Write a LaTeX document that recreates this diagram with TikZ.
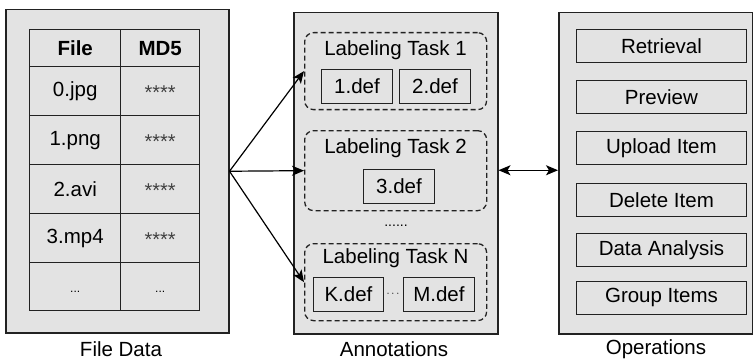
\documentclass[tikz,border=0pt]{standalone}
\usepackage{fontspec}
\setmainfont{Liberation Sans}
\usetikzlibrary{arrows.meta}
\definecolor{panelgray}{HTML}{E3E3E3}
\definecolor{edge}{HTML}{222222}
\tikzset{
  panel/.style={draw=edge, fill=panelgray, line width=1.5pt, anchor=north west, inner sep=0pt},
  cell/.style={draw=edge, line width=1.4pt, anchor=north west, inner sep=0pt, minimum height=49pt},
  taskbox/.style={draw=edge, dash pattern=on 5pt off 3pt, line width=1.3pt, rounded corners=9pt, anchor=north west, inner sep=0pt, minimum width=182pt},
  filebox/.style={draw=edge, line width=0.9pt, anchor=north west, inner sep=0pt, minimum height=34pt},
  opbox/.style={draw=edge, line width=0.9pt, anchor=north west, inner sep=0pt, minimum width=170pt, minimum height=33pt},
  txt/.style={font=\fontsize{20.5}{24}\selectfont, inner sep=0pt},
  stars/.style={font=\fontsize{20}{22}\selectfont, text=black!75, inner sep=0pt, anchor=base},
  arr/.style={line width=1.2pt, -{Stealth[length=12pt,width=10pt,inset=3pt]}},
  darr/.style={line width=1.2pt, {Stealth[length=12pt,width=10pt,inset=3pt]}-{Stealth[length=12pt,width=10pt,inset=3pt]}},
}
\begin{document}
\begin{tikzpicture}[x=1pt,y=-1pt]
\useasboundingbox (0,0) rectangle (753,361);
% ---------- File Data panel ----------
\node[panel, minimum width=223pt, minimum height=323pt] (fd) at (5,9) {};
\node[cell, minimum width=91pt, minimum height=37pt] (h1) at (29,29) {};
\node[cell, minimum width=79pt, minimum height=37pt] (h2) at (120,29) {};
\node[txt, font=\fontsize{20.5}{24}\selectfont\bfseries] (h1t) at (h1.center) {File};
\node[txt, font=\fontsize{20.5}{24}\selectfont\bfseries] (h2t) at (h2.center) {MD5};
\foreach \i/\y/\name in {1/66/0.jpg, 2/115/1.png, 3/164/2.avi, 4/213/3.mp4}{
  \node[cell, minimum width=91pt] (a\i) at (29,\y) {};
  \node[cell, minimum width=79pt] (b\i) at (120,\y) {};
  \node[txt] (at\i) at (a\i.center) {\name};
  \node[stars] (bt\i) at ([yshift=-8pt]b\i.center) {****};
}
\node[cell, minimum width=91pt, minimum height=48pt] (a5) at (29,262) {};
\node[cell, minimum width=79pt, minimum height=48pt] (b5) at (120,262) {};
\node[font=\fontsize{12}{14}\selectfont, inner sep=0pt, anchor=base] (at5) at ([yshift=-6pt]a5.center) {...};
\node[font=\fontsize{12}{14}\selectfont, inner sep=0pt, anchor=base] (bt5) at ([yshift=-6pt]b5.center) {...};
\node[txt] (fdl) at (121,349) {File Data};
% ---------- Annotations panel ----------
\node[panel, minimum width=204pt, minimum height=321pt] (ann) at (293,12) {};
\node[taskbox, minimum height=77pt] (t1) at (304,32) {};
\node[txt] (t1t) at (395.5,50) {Labeling Task 1};
\node[filebox, minimum width=71pt] (d1) at (321,69) {};
\node[txt] at (d1.center) {1.def};
\node[filebox, minimum width=71pt] (d2) at (399,69) {};
\node[txt] at (d2.center) {2.def};
\node[taskbox, minimum height=80pt] (t2) at (304,130) {};
\node[txt] (t2t) at (395.5,148) {Labeling Task 2};
\node[filebox, minimum width=71pt] (d3) at (363,169) {};
\node[txt] at (d3.center) {3.def};
\node[font=\fontsize{14}{16}\selectfont, inner sep=0pt, anchor=base] (dots) at (396,226) {......};
\node[taskbox, minimum height=77pt] (tN) at (304,243) {};
\node[txt] (tNt) at (395.5,258) {Labeling Task N};
\node[filebox, minimum width=70pt] (dK) at (313,277) {};
\node[txt] at (dK.center) {K.def};
\node[filebox, minimum width=71pt] (dM) at (403,277) {};
\node[txt] at (dM.center) {M.def};
\node[font=\fontsize{11}{12}\selectfont, inner sep=0pt] (kdots) at (393,294) {$\cdots$};
\node[txt] (annl) at (394,349) {Annotations};
% ---------- Operations panel ----------
\node[panel, minimum width=194pt, minimum height=321pt] (ops) at (558,12) {};
\foreach \i/\y/\name in {1/29/Retrieval, 2/80/Preview, 3/131/Upload Item, 4/183/Delete Item, 5/233/Data Analysis, 6/281/Group Items}{
  \node[opbox] (o\i) at (576,\y) {};
  \node[txt] (ot\i) at (o\i.center) {\name};
}
\node[txt] (opsl) at (656,349) {Operations};
% ---------- connectors ----------
\draw[arr] (fd.east) -- (t1.west);
\draw[arr] (fd.east) -- (t2.west);
\draw[arr] (fd.east) -- (tN.west);
\draw[darr] ([yshift=3pt]ann.east) -- ([yshift=3pt]ops.west);
\end{tikzpicture}
\end{document}
